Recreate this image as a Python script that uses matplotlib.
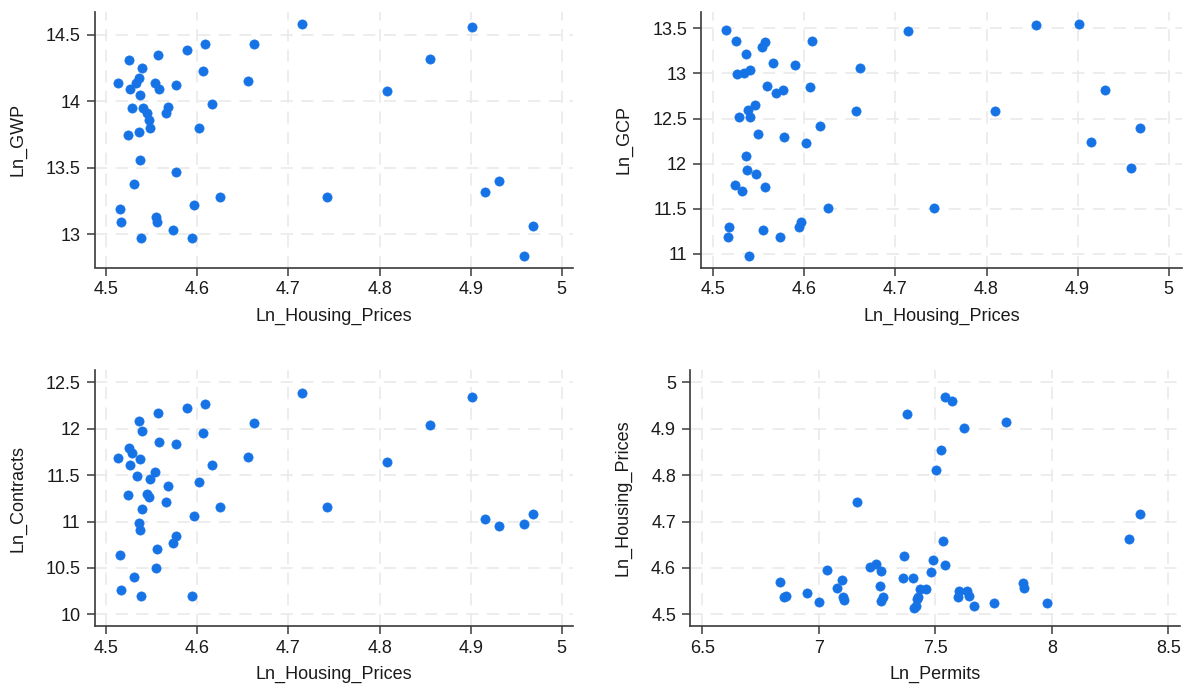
import matplotlib
matplotlib.use("Agg")
import matplotlib.pyplot as plt
from matplotlib.ticker import FuncFormatter

plt.rcParams['font.family'] = ['Liberation Sans', 'DejaVu Sans']

# Panel 1: Ln_GWP vs Ln_Housing_Prices
gwp_price = [4.715, 4.608, 4.662, 4.589, 4.557, 4.525, 4.539, 4.606, 4.536, 4.533,
             4.513, 4.553, 4.656, 4.577, 4.526, 4.558, 4.537, 4.808, 4.616, 4.528,
             4.540, 4.568, 4.566, 4.545, 4.547, 4.548, 4.602, 4.524, 4.536, 4.537,
             4.577, 4.530, 4.625, 4.742, 4.596, 4.515, 4.516, 4.554, 4.556, 4.573,
             4.538, 4.594, 4.902, 4.855, 4.931, 4.916, 4.969, 4.959]
gwp = [14.58, 14.43, 14.43, 14.39, 14.35, 14.31, 14.25, 14.23, 14.18, 14.14,
       14.14, 14.14, 14.15, 14.12, 14.09, 14.09, 14.05, 14.08, 13.98, 13.95,
       13.95, 13.96, 13.91, 13.91, 13.86, 13.80, 13.80, 13.75, 13.77, 13.56,
       13.47, 13.38, 13.28, 13.28, 13.22, 13.19, 13.09, 13.13, 13.09, 13.03,
       12.97, 12.97, 14.56, 14.32, 13.40, 13.32, 13.06, 12.84]

# Panel 2: Ln_GCP vs Ln_Housing_Prices
gcp_price = [4.514, 4.714, 4.525, 4.557, 4.553, 4.608, 4.536, 4.566, 4.590, 4.661,
             4.526, 4.534, 4.540, 4.559, 4.569, 4.577, 4.606, 4.546, 4.538, 4.657,
             4.528, 4.540, 4.617, 4.549, 4.578, 4.602, 4.536, 4.537, 4.547, 4.524,
             4.531, 4.557, 4.626, 4.742, 4.596, 4.594, 4.517, 4.516, 4.555, 4.573,
             4.539, 4.854, 4.901, 4.930, 4.809, 4.968, 4.915, 4.959]
gcp = [13.48, 13.47, 13.36, 13.35, 13.29, 13.36, 13.22, 13.11, 13.09, 13.06,
       12.99, 13.00, 13.04, 12.86, 12.78, 12.82, 12.85, 12.65, 12.60, 12.58,
       12.52, 12.52, 12.42, 12.33, 12.29, 12.23, 12.08, 11.93, 11.89, 11.76,
       11.70, 11.74, 11.51, 11.51, 11.35, 11.30, 11.30, 11.19, 11.26, 11.19,
       10.98, 13.54, 13.55, 12.82, 12.58, 12.40, 12.24, 11.95]

# Panel 3: Ln_Contracts vs Ln_Housing_Prices
contracts_price = [4.715, 4.608, 4.589, 4.557, 4.536, 4.662, 4.539, 4.606, 4.558, 4.577,
                   4.525, 4.528, 4.513, 4.537, 4.656, 4.526, 4.616, 4.553, 4.548, 4.534,
                   4.568, 4.602, 4.524, 4.545, 4.547, 4.566, 4.539, 4.625, 4.742, 4.596,
                   4.536, 4.537, 4.577, 4.573, 4.556, 4.515, 4.554, 4.530, 4.516, 4.538,
                   4.594, 4.808, 4.902, 4.855, 4.916, 4.931, 4.959, 4.969]
contracts = [12.39, 12.27, 12.22, 12.17, 12.08, 12.06, 11.98, 11.95, 11.86, 11.84,
             11.79, 11.74, 11.68, 11.67, 11.70, 11.61, 11.61, 11.53, 11.46, 11.49,
             11.38, 11.43, 11.29, 11.30, 11.26, 11.21, 11.14, 11.16, 11.16, 11.06,
             10.98, 10.91, 10.84, 10.77, 10.70, 10.64, 10.50, 10.40, 10.26, 10.20,
             10.20, 11.64, 12.34, 12.04, 11.03, 10.95, 10.97, 11.08]

# Panel 4: Ln_Housing_Prices vs Ln_Permits
permits = [7.543, 7.570, 7.377, 7.624, 7.523, 7.503, 7.165, 7.534, 7.364, 7.489,
           7.543, 7.221, 7.247, 7.265, 7.035, 7.480, 6.832, 7.098, 7.363, 7.403,
           7.077, 7.264, 7.434, 7.460, 7.600, 7.637, 6.951, 6.859, 6.852, 7.105,
           7.109, 7.274, 7.266, 7.426, 7.420, 7.599, 7.643, 6.999, 7.407, 7.417,
           7.667, 7.805, 8.380, 8.331, 7.876, 7.879, 7.752, 7.981]
permits_price = [4.969, 4.959, 4.931, 4.902, 4.855, 4.810, 4.743, 4.657, 4.626, 4.617,
                 4.606, 4.602, 4.608, 4.594, 4.596, 4.591, 4.569, 4.574, 4.578, 4.578,
                 4.557, 4.560, 4.555, 4.554, 4.550, 4.550, 4.545, 4.540, 4.537, 4.537,
                 4.531, 4.537, 4.529, 4.537, 4.532, 4.538, 4.539, 4.527, 4.514, 4.517,
                 4.517, 4.915, 4.716, 4.662, 4.567, 4.557, 4.525, 4.525]

price_ticks = [4.5, 4.6, 4.7, 4.8, 4.9, 5.0]

panels = [
    dict(x=gwp_price, y=gwp, xlabel="Ln_Housing_Prices", ylabel="Ln_GWP",
         xticks=price_ticks, yticks=[13, 13.5, 14, 14.5],
         xlim=(4.487, 5.0127), ylim=(12.75, 14.673),
         rect=[94.5, 12, 573.3, 267.5]),
    dict(x=gcp_price, y=gcp, xlabel="Ln_Housing_Prices", ylabel="Ln_GCP",
         xticks=price_ticks, yticks=[11, 11.5, 12, 12.5, 13, 13.5],
         xlim=(4.4865, 5.0143), ylim=(10.85, 13.68),
         rect=[701, 12, 1181.7, 267.5]),
    dict(x=contracts_price, y=contracts, xlabel="Ln_Housing_Prices", ylabel="Ln_Contracts",
         xticks=price_ticks, yticks=[10, 10.5, 11, 11.5, 12, 12.5],
         xlim=(4.487, 5.0127), ylim=(9.874, 12.633),
         rect=[94.5, 370, 573.3, 626]),
    dict(x=permits, y=permits_price, xlabel="Ln_Permits", ylabel="Ln_Housing_Prices",
         xticks=[6.5, 7, 7.5, 8, 8.5], yticks=[4.5, 4.6, 4.7, 4.8, 4.9, 5.0],
         xlim=(6.447, 8.55), ylim=(4.4748, 5.0265),
         rect=[690, 370, 1180, 626]),
]

W, H = 1190, 686
fig = plt.figure(figsize=(W / 100, H / 100), dpi=100)

fmt = FuncFormatter(lambda v, pos: "%g" % round(v, 4))

for p in panels:
    x0, y0, x1, y1 = p["rect"]
    ax = fig.add_axes([x0 / W, 1 - y1 / H, (x1 - x0) / W, (y1 - y0) / H])
    ax.scatter(p["x"], p["y"], s=44, color="#1673e6", edgecolors="#1673e6",
               linewidths=0.5, zorder=3)
    ax.set_xticks(p["xticks"])
    ax.set_yticks(p["yticks"])
    ax.set_xlim(p["xlim"])
    ax.set_ylim(p["ylim"])
    ax.xaxis.set_major_formatter(fmt)
    ax.yaxis.set_major_formatter(fmt)
    ax.grid(True, color="#e8e8e8", linestyle=(0, (8, 5.5)), linewidth=1.1, zorder=0)
    for side in ["top", "right"]:
        ax.spines[side].set_visible(False)
    for side in ["left", "bottom"]:
        ax.spines[side].set_color("#3a3a3a")
        ax.spines[side].set_linewidth(1.2)
    ax.tick_params(direction="out", length=6, width=1.1, color="#3a3a3a",
                   labelsize=13, labelcolor="#1a1a1a", pad=4)
    ax.set_xlabel(p["xlabel"], fontsize=13, color="#1a1a1a", labelpad=6.5)
    ax.set_ylabel(p["ylabel"], fontsize=13, color="#1a1a1a", labelpad=14)
    ax.set_facecolor("white")

fig.savefig("out.png", dpi=100, facecolor="white")
